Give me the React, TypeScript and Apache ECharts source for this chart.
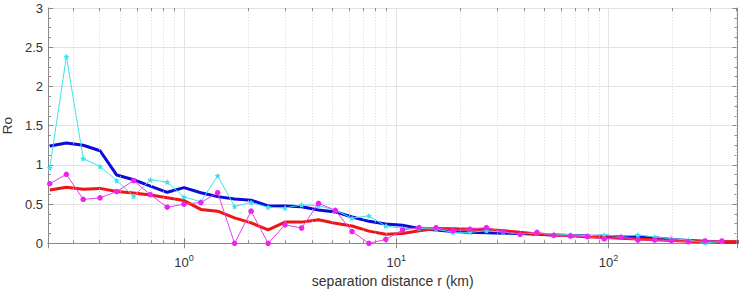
import React, { useEffect, useRef } from "react";
import * as echarts from "echarts";

// separation distance r (km)
const rKm = [
  0.233, 0.279, 0.335, 0.402, 0.482, 0.579, 0.694, 0.833, 1.0, 1.2, 1.44, 1.73,
  2.07, 2.49, 2.99, 3.58, 4.3, 5.16, 6.19, 7.43, 8.92, 10.7, 12.8, 15.4, 18.5,
  22.2, 26.6, 31.9, 38.3, 46.0, 55.2, 66.2, 79.5, 95.4, 114.5, 137.4, 164.9,
  197.9, 237.4, 284.9, 341.9, 410.0,
];

const cyanRo = [
  0.96, 2.38, 1.08, 0.98, 0.8, 0.6, 0.81, 0.78, 0.59, 0.53, 0.86, 0.47, 0.52,
  0.46, 0.45, 0.49, 0.48, 0.42, 0.32, 0.35, 0.22, 0.19, 0.19, 0.18, 0.14, 0.14,
  0.16, 0.14, 0.12, 0.13, 0.12, 0.11, 0.097, 0.106, 0.09, 0.106, 0.08, 0.06,
  0.04, 0.008, 0.02, null,
];

const magentaRo = [
  0.76, 0.88, 0.56, 0.58, 0.66, 0.8, 0.62, 0.46, 0.5, 0.52, 0.645, 0.0, 0.41,
  0.0, 0.235, 0.195, 0.51, 0.42, 0.15, 0.0, 0.05, 0.17, 0.2, 0.2, 0.16, 0.18,
  0.2, 0.15, 0.115, 0.14, 0.1, 0.093, 0.085, 0.055, 0.077, 0.042, 0.042, 0.033,
  0.02, 0.03, 0.03, null,
];

const blueRo = [
  1.24, 1.28, 1.25, 1.18, 0.87, 0.81, 0.73, 0.65, 0.71, 0.645, 0.595, 0.565,
  0.55, 0.476, 0.476, 0.466, 0.425, 0.4, 0.335, 0.28, 0.245, 0.23, 0.19, 0.17,
  0.15, 0.14, 0.135, 0.128, 0.125, 0.115, 0.106, 0.1, 0.093, 0.09, 0.085, 0.08,
  0.07, 0.05, 0.035, 0.025, 0.018, 0.015,
];

const redRo = [
  0.68, 0.715, 0.69, 0.7, 0.66, 0.64, 0.615, 0.58, 0.545, 0.432, 0.41, 0.325,
  0.26, 0.17, 0.27, 0.27, 0.3, 0.255, 0.22, 0.155, 0.115, 0.125, 0.16, 0.19,
  0.185, 0.18, 0.175, 0.16, 0.14, 0.12, 0.105, 0.095, 0.085, 0.075, 0.065,
  0.055, 0.045, 0.035, 0.025, 0.02, 0.02, 0.02,
];

const xMin = 0.2286;
const xMax = 405;
const yMin = 0;
const yMax = 3;
const yStep = 0.5;

// minor log ticks (2..9 per decade) inside the axis range
const minorX = [
  0.3, 0.4, 0.5, 0.6, 0.7, 0.8, 0.9, 2, 3, 4, 5, 6, 7, 8, 9, 20, 30, 40, 50,
  60, 70, 80, 90, 200, 300, 400,
];

const AXIS_COLOR = "#8a8a8a";
const TEXT_COLOR = "#333333";
const FONT = "'Liberation Sans', Arial, Helvetica, sans-serif";

const starPath =
  "path://M0,-10 L2.9,-4 9.5,-3.1 4.7,1.5 5.9,8.1 0,5 -5.9,8.1 -4.7,1.5 -9.5,-3.1 -2.9,-4Z";

function pairs(vals: (number | null)[]) {
  return rKm.map((r, i) => [r, vals[i]]);
}

export default function App() {
  const ref = useRef<HTMLDivElement>(null);

  useEffect(() => {
    if (!ref.current) return;
    const chart = echarts.init(ref.current, undefined, { renderer: "svg" });

    const tickLenUnits = (3 / 235) * (yMax - yMin);
    const minorMarks: any[] = [];
    minorX.forEach((v) => {
      minorMarks.push({
        xAxis: v,
        lineStyle: { color: "#d4d4d4", type: [1, 2], width: 1 },
      });
    });
    minorX.forEach((v) => {
      minorMarks.push([
        { coord: [v, yMin], lineStyle: { color: AXIS_COLOR, type: "solid", width: 1 } },
        { coord: [v, yMin + tickLenUnits] },
      ]);
      minorMarks.push([
        { coord: [v, yMax], lineStyle: { color: AXIS_COLOR, type: "solid", width: 1 } },
        { coord: [v, yMax - tickLenUnits] },
      ]);
    });

    const option: any = {
      animation: false,
      backgroundColor: "#ffffff",
      textStyle: { fontFamily: FONT },
      grid: {
        left: 48,
        right: 7.5,
        top: 8,
        bottom: 45.7,
        containLabel: false,
        outerBoundsMode: "none",
      },
      xAxis: [
        {
          type: "log",
          logBase: 10,
          min: xMin,
          max: xMax,
          position: "bottom",
          name: "separation distance r (km)",
          nameLocation: "middle",
          nameGap: 29,
          nameTextStyle: { fontSize: 14, color: TEXT_COLOR, fontFamily: FONT },
          axisLine: { show: true, lineStyle: { color: AXIS_COLOR, width: 1 } },
          axisTick: { show: true, inside: true, length: 5, lineStyle: { color: AXIS_COLOR } },
          minorTick: { show: false },
          splitLine: { show: true, lineStyle: { color: "#e2e2e2", width: 1 } },
          axisLabel: {
            show: true,
            margin: 10,
            showMinLabel: false,
            showMaxLabel: false,
            formatter: (v: number) => {
              const e = Math.round(Math.log10(v));
              return "{b|10}{s|" + e + "}";
            },
            rich: {
              b: { fontSize: 13, color: TEXT_COLOR, fontFamily: FONT, lineHeight: 16, verticalAlign: "bottom" },
              s: { fontSize: 9, color: TEXT_COLOR, fontFamily: FONT, lineHeight: 9, verticalAlign: "top" },
            },
          },
        },
        {
          type: "log",
          logBase: 10,
          min: xMin,
          max: xMax,
          position: "top",
          axisLine: { show: true, lineStyle: { color: AXIS_COLOR, width: 1 } },
          axisTick: { show: true, inside: true, length: 5, lineStyle: { color: AXIS_COLOR } },
          axisLabel: { show: false },
          splitLine: { show: false },
        },
      ],
      yAxis: [
        {
          type: "value",
          min: yMin,
          max: yMax,
          interval: yStep,
          position: "left",
          name: "Ro",
          nameLocation: "middle",
          nameGap: 30,
          nameRotate: 90,
          nameTextStyle: { fontSize: 13.5, color: TEXT_COLOR, fontFamily: FONT },
          axisLine: { show: true, lineStyle: { color: AXIS_COLOR, width: 1 } },
          axisTick: { show: true, inside: true, length: 5, lineStyle: { color: AXIS_COLOR } },
          minorTick: { show: true, splitNumber: 4, length: 3, lineStyle: { color: AXIS_COLOR } },
          splitLine: { show: true, lineStyle: { color: "#e2e2e2", width: 1 } },
          axisLabel: { show: true, margin: 5, fontSize: 13, color: TEXT_COLOR, fontFamily: FONT },
        },
        {
          type: "value",
          min: yMin,
          max: yMax,
          interval: yStep,
          position: "right",
          axisLine: { show: true, lineStyle: { color: AXIS_COLOR, width: 1 } },
          axisTick: { show: true, inside: true, length: 5, lineStyle: { color: AXIS_COLOR } },
          minorTick: { show: true, splitNumber: 4, length: 3, lineStyle: { color: AXIS_COLOR } },
          splitLine: { show: false },
          axisLabel: { show: false },
        },
      ],
      series: [
        {
          name: "grid-helper",
          type: "line",
          xAxisIndex: 0,
          yAxisIndex: 0,
          data: [[1, -1]],
          symbol: "none",
          silent: true,
          z: 1,
          lineStyle: { opacity: 0 },
          markLine: {
            silent: true,
            symbol: ["none", "none"],
            label: { show: false },
            animation: false,
            data: minorMarks,
          },
        },
        {
          name: "blue",
          type: "line",
          data: pairs(blueRo),
          symbol: "none",
          z: 3,
          lineStyle: { color: "#0c0cd8", width: 3 },
          itemStyle: { color: "#0c0cd8" },
        },
        {
          name: "red",
          type: "line",
          data: pairs(redRo),
          symbol: "none",
          z: 4,
          lineStyle: { color: "#ec1616", width: 3 },
          itemStyle: { color: "#ec1616" },
        },
        {
          name: "cyan",
          type: "line",
          data: pairs(cyanRo),
          symbol: starPath,
          symbolSize: 6,
          showAllSymbol: true,
          connectNulls: false,
          z: 5,
          lineStyle: { color: "#3de3ec", width: 1 },
          itemStyle: { color: "#3de3ec" },
        },
        {
          name: "magenta",
          type: "line",
          data: pairs(magentaRo),
          symbol: "circle",
          symbolSize: 5.5,
          showAllSymbol: true,
          z: 6,
          lineStyle: { color: "#e83ce8", width: 1 },
          itemStyle: { color: "#f020f0" },
        },
      ],
    };

    chart.setOption(option);
    return () => chart.dispose();
  }, []);

  return (
    <div
      ref={ref}
      style={{ position: "fixed", left: 0, top: 0, width: 745, height: 289, background: "#fff" }}
    />
  );
}
